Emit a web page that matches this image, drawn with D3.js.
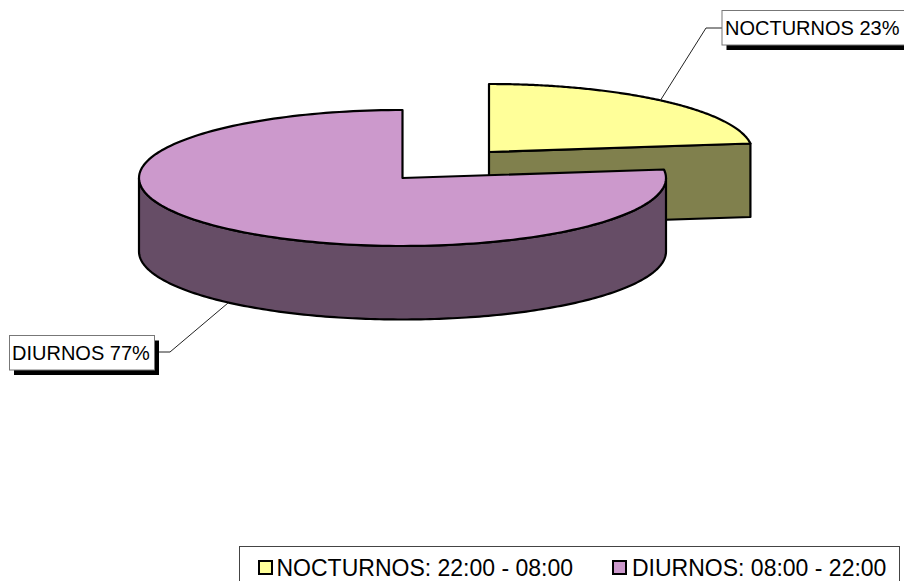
<!DOCTYPE html>
<html>
<head>
<meta charset="utf-8">
<script src="https://cdn.jsdelivr.net/npm/d3@7/dist/d3.min.js"></script>
<style>
html,body{margin:0;padding:0;background:#fff;overflow:hidden}
svg{display:block}
text{font-family:"Liberation Sans",Arial,sans-serif;fill:#000}
</style>
</head>
<body>
<div id="chart"></div>
<script>
const categories = ["NOCTURNOS", "DIURNOS"];
const values = [23, 77];
const legendLabels = ["NOCTURNOS: 22:00 - 08:00", "DIURNOS: 08:00 - 22:00"];
const topColors = ["#FFFF99", "#CC99CC"];
const sideColors = ["#80804D", "#664D66"];

const W = 904, H = 581;
const rx = 263.5, ry = 68, depth = 73.5;
const centres = [{x: 489, y: 152}, {x: 402.5, y: 178}];
const labelBoxes = [
  {x: 722, y: 10.5, w: 190, h: 34.5, tx: 725, leader: [[660, 101], [706, 28], [722, 28]]},
  {x: 9.5, y: 335.5, w: 145, h: 34.5, tx: 12, leader: [[228, 303], [170, 352], [155, 352]]}
];

const svg = d3.select("#chart").append("svg").attr("width", W).attr("height", H);
const arcs = d3.pie().sort(null).value(d => d)(values);

function project(i) {
  const c = centres[i];
  const sx = d3.scaleLinear().domain([-1, 1]).range([c.x - rx, c.x + rx]);
  const sy = d3.scaleLinear().domain([-1, 1]).range([c.y - ry, c.y + ry]);
  return (a, dz = 0) => [sx(Math.sin(a)), sy(-Math.cos(a)) + dz];
}
const line = d3.line();

function topPath(i) {
  const p = project(i), a = arcs[i];
  const steps = d3.range(0, 181).map(k => a.startAngle + (a.endAngle - a.startAngle) * k / 180);
  return line([[centres[i].x, centres[i].y], ...steps.map(t => p(t))]) + "Z";
}
function styled(sel, fill) {
  return sel.attr("fill", fill).attr("stroke", "#000").attr("stroke-width", 2.2).attr("stroke-linejoin", "round");
}

// Nocturnos: the exposed cut face runs from the apex to the end of the arc
{
  const p = project(0), a = arcs[0], c = centres[0];
  const e = p(a.endAngle), f = p(a.endAngle, depth);
  styled(svg.append("path").attr("d", line([[c.x, c.y], e, f, [c.x, c.y + depth]]) + "Z"), sideColors[0]);
  styled(svg.append("path").attr("d", topPath(0)), topColors[0]);
}

// Diurnos: outer wall along the front half of the ellipse
{
  const p = project(1);
  const from = Math.PI / 2, to = 1.5 * Math.PI;
  const rim = d3.range(0, 181).map(k => from + (to - from) * k / 180);
  const pts = [...rim.map(t => p(t)), ...rim.slice().reverse().map(t => p(t, depth))];
  styled(svg.append("path").attr("d", line(pts) + "Z"), sideColors[1]);
  styled(svg.append("path").attr("d", topPath(1)), topColors[1]);
}

// Data labels with leader lines and hard shadows
categories.forEach((name, i) => {
  const b = labelBoxes[i];
  svg.append("path").attr("d", line(b.leader)).attr("fill", "none")
    .attr("stroke", "#222").attr("stroke-width", 1);
  svg.append("rect").attr("x", b.x + 4.5).attr("y", b.y + 5).attr("width", b.w).attr("height", b.h).attr("fill", "#000");
  svg.append("rect").attr("x", b.x).attr("y", b.y).attr("width", b.w).attr("height", b.h)
    .attr("fill", "#fff").attr("stroke", "#777").attr("stroke-width", 1);
  svg.append("text").attr("x", b.tx).attr("y", b.y + 24.5).attr("font-size", 20)
    .text(`${name} ${values[i]}%`);
});

// Legend
svg.append("rect").attr("x", 239.5).attr("y", 546.5).attr("width", 660).attr("height", 50)
  .attr("fill", "#fff").attr("stroke", "#444").attr("stroke-width", 1);
const legendX = [259, 613];
const legendTextX = [276.5, 632];
legendLabels.forEach((label, i) => {
  svg.append("rect").attr("x", legendX[i]).attr("y", 561).attr("width", 13).attr("height", 13)
    .attr("fill", topColors[i]).attr("stroke", "#000").attr("stroke-width", 2);
  svg.append("text").attr("x", legendTextX[i]).attr("y", 576).attr("font-size", 23)
    .text(label);
});
</script>
</body>
</html>
